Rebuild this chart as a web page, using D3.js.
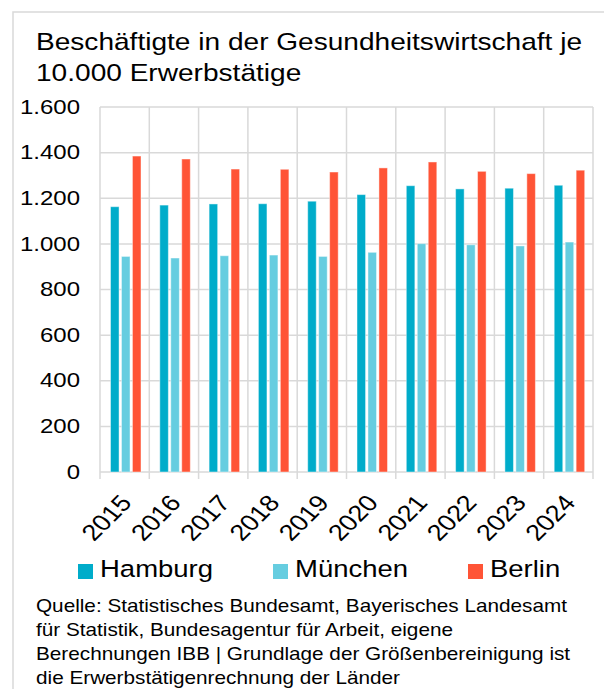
<!DOCTYPE html>
<html>
<head>
<meta charset="utf-8">
<script src="https://cdn.jsdelivr.net/npm/d3@7"></script>
<style>
  body { margin: 0; background: #fff; }
  svg { display: block; font-family: "Liberation Sans", Arial, sans-serif; }
</style>
</head>
<body>
<div id="content"></div>
<script>
// data
const years = ['2015', '2016', '2017', '2018', '2019', '2020', '2021', '2022', '2023', '2024'];
const series = ['Hamburg', 'München', 'Berlin'];
const hamburg = [1163, 1170, 1175, 1176, 1187, 1216, 1255, 1241, 1244, 1257];
const muenchen = [945, 938, 948, 951, 945, 963, 1001, 996, 991, 1008];
const berlin = [1385, 1372, 1328, 1327, 1315, 1333, 1359, 1318, 1308, 1323];
const yTicks = [0, 200, 400, 600, 800, 1000, 1200, 1400, 1600];
const titleLines = ['Beschäftigte in der Gesundheitswirtschaft je', '10.000 Erwerbstätige'];
const sourceLines = [
  'Quelle: Statistisches Bundesamt, Bayerisches Landesamt',
  'für Statistik, Bundesagentur für Arbeit, eigene',
  'Berechnungen IBB | Grundlage der Größenbereinigung ist',
  'die Erwerbstätigenrechnung der Länder'
];

const width = 604;
const height = 689;
const grid = '#d9d9d9';
const colors = ['#00acca', '#66cde0', '#ff5436'];
const values = [hamburg, muenchen, berlin];
// the original text is a bit wider than Arial
const sx = 1.17;

const rows = years.map((y, i) => ({ year: y, vals: series.map((s, j) => ({ key: s, value: values[j][i] })) }));

const svg = d3.select('#content')
  .append('svg')
  .attr('width', width)
  .attr('height', height);

// outer frame (runs off the right and bottom edge)
svg.append('rect')
  .attr('x', 13)
  .attr('y', 12)
  .attr('width', width)
  .attr('height', height)
  .attr('fill', 'none')
  .attr('stroke', grid)
  .attr('stroke-width', 1.5);

svg.append('g')
  .selectAll('text')
  .data(titleLines)
  .enter()
  .append('text')
  .attr('transform', (d, i) => `translate(36,${50 + i * 31}) scale(${sx},1)`)
  .attr('font-size', 24)
  .attr('fill', '#000')
  .text(d => d);

const plot = { left: 100, right: 593, top: 107, bottom: 472 };

const x0 = d3.scaleBand()
  .domain(years)
  .range([plot.left, plot.right]);

const x1 = d3.scaleBand()
  .domain(series)
  .range([10.5, 41])
  .paddingInner(0.22);

const y = d3.scaleLinear()
  .domain([0, 1600])
  .range([plot.bottom, plot.top]);

const fmt = d3.formatLocale({ decimal: ',', thousands: '.', grouping: [3], currency: ['', ' €'] }).format(',');

// horizontal gridlines
svg.append('g')
  .selectAll('line')
  .data(yTicks)
  .enter()
  .append('line')
  .attr('x1', plot.left)
  .attr('x2', plot.right)
  .attr('y1', d => y(d))
  .attr('y2', d => y(d))
  .attr('stroke', grid)
  .attr('stroke-width', 1.5);

// vertical category separators, extending below as ticks
const bounds = years.map(d => x0(d)).concat([plot.right]);
svg.append('g')
  .selectAll('line')
  .data(bounds)
  .enter()
  .append('line')
  .attr('x1', d => d)
  .attr('x2', d => d)
  .attr('y1', plot.top)
  .attr('y2', plot.bottom + 7)
  .attr('stroke', grid)
  .attr('stroke-width', 1.5);

// y axis labels
const yAxis = svg.append('g')
  .attr('transform', `translate(${plot.left},0)`)
  .call(d3.axisLeft(y).tickValues(yTicks).tickFormat(fmt).tickSize(0).tickPadding(0));
yAxis.select('.domain').remove();
yAxis.selectAll('text')
  .attr('x', 0)
  .attr('transform', `translate(-20,0) scale(${sx},1)`)
  .attr('font-size', 20.5)
  .attr('font-family', '"Liberation Sans", Arial, sans-serif')
  .attr('fill', '#000')
  .attr('dy', '0.3em');

// bars
svg.append('g')
  .selectAll('g')
  .data(rows)
  .enter()
  .append('g')
  .attr('transform', d => `translate(${x0(d.year)},0)`)
  .selectAll('rect')
  .data(d => d.vals)
  .enter()
  .append('rect')
  .attr('x', d => x1(d.key))
  .attr('width', x1.bandwidth())
  .attr('y', d => y(d.value))
  .attr('height', d => y(0) - y(d.value))
  .attr('fill', (d, i) => colors[i])
  .attr('stroke', 'rgba(255,255,255,0.45)')
  .attr('stroke-width', 1);

// rotated year labels
svg.append('g')
  .selectAll('text')
  .data(years)
  .enter()
  .append('text')
  .attr('transform', d => `translate(${x0(d) + x0.bandwidth() / 2 - 6},${plot.bottom + 21}) scale(${sx},1) rotate(-49.5)`)
  .attr('text-anchor', 'end')
  .attr('dy', '0.7em')
  .attr('font-size', 23)
  .attr('fill', '#000')
  .text(d => d);

// legend
const legendX = [78, 273, 468];
const legend = svg.append('g')
  .selectAll('g')
  .data(series)
  .enter()
  .append('g')
  .attr('transform', (d, i) => `translate(${legendX[i]},564)`);
legend.append('rect')
  .attr('width', 15)
  .attr('height', 15)
  .attr('fill', (d, i) => colors[i]);
legend.append('text')
  .attr('transform', `translate(22,13) scale(${sx},1)`)
  .attr('font-size', 23.5)
  .attr('fill', '#000')
  .text(d => d);

// source note
svg.append('g')
  .selectAll('text')
  .data(sourceLines)
  .enter()
  .append('text')
  .attr('transform', (d, i) => `translate(36,${612 + i * 24}) scale(1.185,1)`)
  .attr('font-size', 17.5)
  .attr('fill', '#000')
  .text(d => d);
</script>
</body>
</html>
